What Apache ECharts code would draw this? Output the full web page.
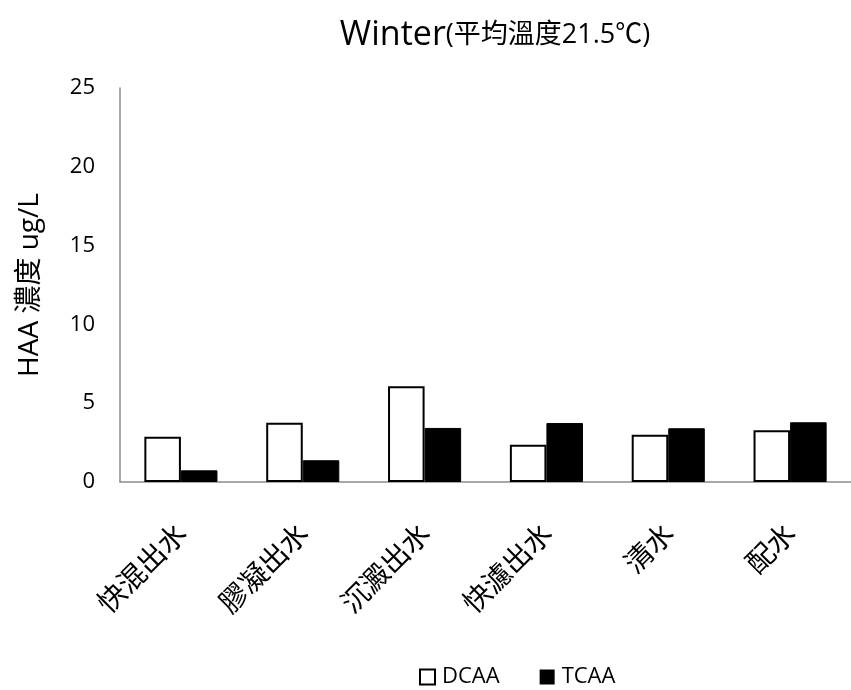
<!DOCTYPE html>
<html>
<head>
<meta charset="utf-8">
<script src="https://cdn.jsdelivr.net/npm/echarts@6/dist/echarts.min.js"></script>
<style>
  html, body { margin: 0; padding: 0; background: #fff; }
  #chart { width: 851px; height: 690px; }
</style>
</head>
<body>
<div id="chart"></div>
<script>
// Sampling points along the treatment process
const categories = ['快混出水', '膠凝出水', '沉澱出水', '快濾出水', '清水', '配水'];
// HAA concentrations (ug/L)
const dcaa = [2.87, 3.76, 6.07, 2.37, 3.00, 3.28];
const tcaa = [0.74, 1.38, 3.43, 3.74, 3.41, 3.79];
const yTicks = [0, 5, 10, 15, 20, 25];

const latin = '"Open Sans", "Noto Sans CJK TC", sans-serif';
const cjk = '"Noto Sans CJK TC", "Open Sans", sans-serif';

const chart = echarts.init(document.getElementById('chart'), null, { renderer: 'canvas' });
chart.setOption({
  animation: false,
  backgroundColor: '#ffffff',
  title: {
    text: '{a|Winter}{b|(平均溫度21.5℃)}',
    left: 490,
    top: 13,
    textAlign: 'center',
    textStyle: {
      fontWeight: 'normal',
      rich: {
        a: { fontFamily: latin, fontSize: 34, fontWeight: 'normal', color: '#000' },
        b: { fontFamily: latin, fontSize: 27, fontWeight: 'normal', color: '#000' }
      }
    }
  },
  legend: {
    top: 661,
    left: 414,
    itemGap: 40,
    itemWidth: 15,
    itemHeight: 15,
    icon: 'rect',
    textStyle: { fontFamily: latin, fontSize: 22, color: '#000', padding: [0, 0, 0, 2] },
    data: [
      { name: 'DCAA', itemStyle: { color: '#fff', borderColor: '#000', borderWidth: 2 } },
      { name: 'TCAA', itemStyle: { color: '#000', borderWidth: 0 } }
    ]
  },
  grid: { left: 120, right: -9, top: 88, bottom: 208, containLabel: false },
  xAxis: {
    type: 'category',
    data: categories,
    axisLine: { lineStyle: { color: '#8c8c8c', width: 1.5 } },
    axisTick: { show: false },
    axisLabel: {
      rotate: 45,
      margin: 46,
      interval: 0,
      fontFamily: cjk,
      fontSize: 28,
      color: '#000'
    }
  },
  yAxis: {
    type: 'value',
    min: yTicks[0],
    max: yTicks[yTicks.length - 1],
    interval: 5,
    axisLine: { show: true, lineStyle: { color: '#8c8c8c', width: 1.5 } },
    axisTick: { show: false },
    splitLine: { show: false },
    axisLabel: { fontFamily: latin, fontSize: 22, color: '#000', margin: 25 },
    name: 'HAA 濃度 ug/L',
    nameLocation: 'middle',
    nameGap: 76,
    nameRotate: 90,
    nameTextStyle: { fontFamily: latin, fontSize: 28, color: '#000' }
  },
  series: [
    {
      name: 'DCAA',
      type: 'bar',
      data: dcaa,
      barGap: '0%',
      barCategoryGap: '40%',
      itemStyle: { color: '#fff', borderColor: '#000', borderWidth: 2 }
    },
    {
      name: 'TCAA',
      type: 'bar',
      data: tcaa,
      itemStyle: { color: '#000', borderColor: '#000', borderWidth: 1 }
    }
  ]
});
</script>
</body>
</html>
